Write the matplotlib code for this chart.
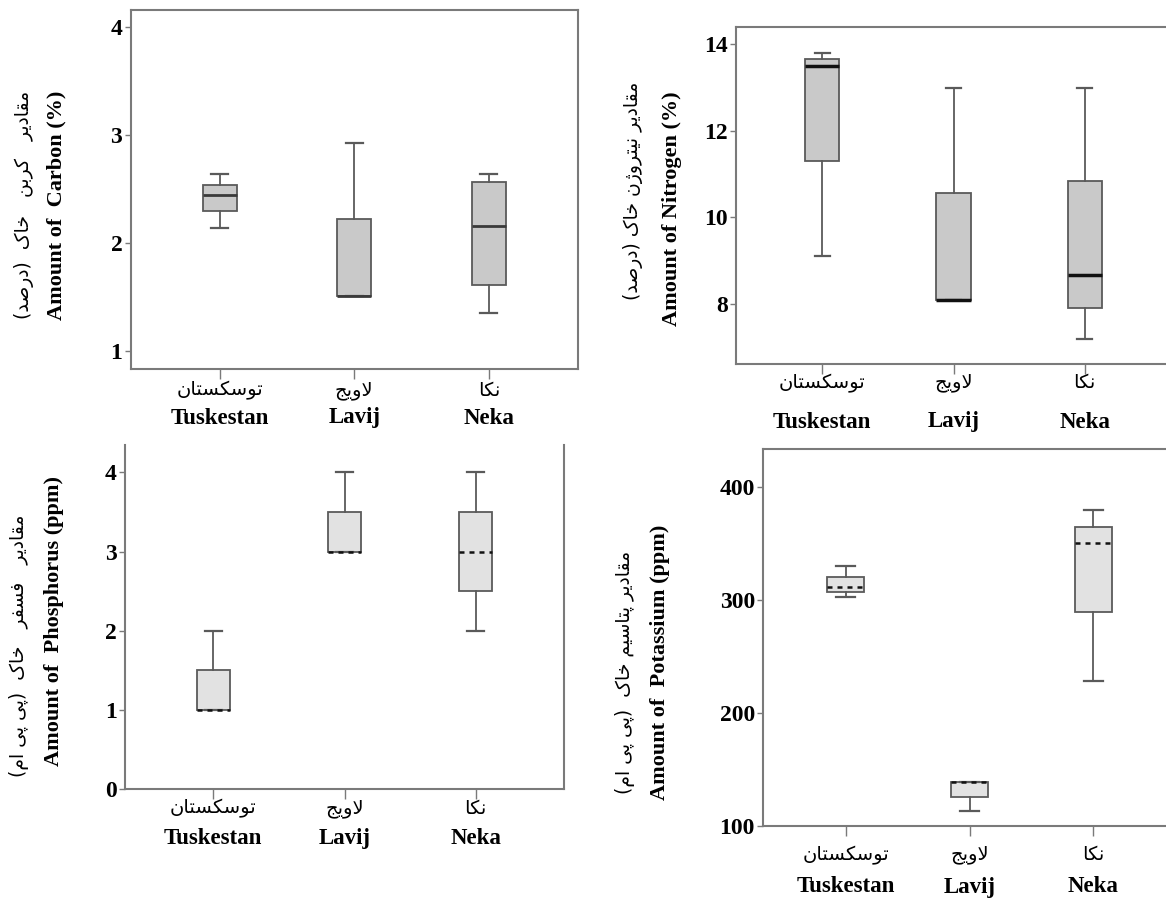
import matplotlib
matplotlib.use("Agg")
import matplotlib.pyplot as plt

# ---------------- data ----------------
sites_en = ["Tuskestan", "Lavij", "Neka"]
sites_fa = ["توسکستان", "لاویج", "نکا"]

# five-number summaries per site: whislo, q1, median, q3, whishi
carbon_whislo = [2.14, 1.51, 1.35]
carbon_q1 = [2.30, 1.51, 1.61]
carbon_med = [2.44, 1.51, 2.16]
carbon_q3 = [2.54, 2.22, 2.56]
carbon_whishi = [2.64, 2.93, 2.64]

nitrogen_whislo = [9.11, 8.10, 7.20]
nitrogen_q1 = [11.30, 8.10, 7.91]
nitrogen_med = [13.50, 8.10, 8.66]
nitrogen_q3 = [13.65, 10.56, 10.85]
nitrogen_whishi = [13.80, 13.00, 13.00]

phosphorus_whislo = [1.0, 3.0, 2.0]
phosphorus_q1 = [1.0, 3.0, 2.5]
phosphorus_med = [1.0, 3.0, 3.0]
phosphorus_q3 = [1.5, 3.5, 3.5]
phosphorus_whishi = [2.0, 4.0, 4.0]

potassium_whislo = [302, 113.5, 228]
potassium_q1 = [306.6, 125.9, 289]
potassium_med = [311.3, 139.2, 350]
potassium_q3 = [320.4, 139.2, 364]
potassium_whishi = [330, 139.2, 379]

ylabel_fa = ["مقادیر   کربن   خاک  (درصد)", "مقادیر نیتروژن خاک (درصد)",
             "مقادیر   فسفر   خاک  (پی پی ام)", "مقادیر پتاسیم خاک  (پی پی ام)"]
ylabel_en = ["Amount of  Carbon (%)", "Amount of Nitrogen (%)",
             "Amount of  Phosphorus (ppm)", "Amount of  Potassium (ppm)"]
carbon_ticks = [1, 2, 3, 4]
nitrogen_ticks = [8, 10, 12, 14]
phosphorus_ticks = [0, 1, 2, 3, 4]
potassium_ticks = [100, 200, 300, 400]

# ------------- simple Persian shaping (presentation forms) -------------
FORMS = {
    'ا': ('\uFE8D', '\uFE8E', None, None),
    'ب': ('\uFE8F', '\uFE90', '\uFE91', '\uFE92'),
    'پ': ('\uFB56', '\uFB57', '\uFB58', '\uFB59'),
    'ت': ('\uFE95', '\uFE96', '\uFE97', '\uFE98'),
    'ج': ('\uFE9D', '\uFE9E', '\uFE9F', '\uFEA0'),
    'خ': ('\uFEA5', '\uFEA6', '\uFEA7', '\uFEA8'),
    'د': ('\uFEA9', '\uFEAA', None, None),
    'ر': ('\uFEAD', '\uFEAE', None, None),
    'ژ': ('\uFB8A', '\uFB8B', None, None),
    'س': ('\uFEB1', '\uFEB2', '\uFEB3', '\uFEB4'),
    'ص': ('\uFEB9', '\uFEBA', '\uFEBB', '\uFEBC'),
    'ف': ('\uFED1', '\uFED2', '\uFED3', '\uFED4'),
    'ق': ('\uFED5', '\uFED6', '\uFED7', '\uFED8'),
    'ک': ('\uFB8E', '\uFB8F', '\uFB90', '\uFB91'),
    'ل': ('\uFEDD', '\uFEDE', '\uFEDF', '\uFEE0'),
    'م': ('\uFEE1', '\uFEE2', '\uFEE3', '\uFEE4'),
    'ن': ('\uFEE5', '\uFEE6', '\uFEE7', '\uFEE8'),
    'و': ('\uFEED', '\uFEEE', None, None),
    'ی': ('\uFBFC', '\uFBFD', '\uFBFE', '\uFBFF'),
}


def joins_left(c):
    return c in FORMS and FORMS[c][2] is not None


def fa(s):
    out = []
    n = len(s)
    i = 0
    while i < n:
        c = s[i]
        if c not in FORMS:
            out.append(c)
            i += 1
            continue
        prev_j = i > 0 and joins_left(s[i - 1])
        if c == 'ل' and i + 1 < n and s[i + 1] == 'ا':
            out.append('\uFEFC' if prev_j else '\uFEFB')
            i += 2
            continue
        next_j = joins_left(c) and i + 1 < n and s[i + 1] in FORMS
        iso, fin, ini, med = FORMS[c]
        if prev_j and next_j:
            g = med
        elif prev_j:
            g = fin
        elif next_j:
            g = ini
        else:
            g = iso
        out.append(g)
        i += 1
    vis = ''.join(out)[::-1]
    return vis.translate(str.maketrans('()', ')('))


# ---------------- figure ----------------
plt.rcParams['font.family'] = ['Liberation Serif']
plt.rcParams['font.weight'] = 'bold'
W, H = 1166, 899
fig = plt.figure(figsize=(W / 100, H / 100), dpi=100)
FA_FONT = dict(family=['DejaVu Sans'], weight='normal')
SPINE = '#7a7a7a'


def px_axes(left, top, right, bottom):
    return fig.add_axes([left / W, 1 - bottom / H, (right - left) / W, (bottom - top) / H])


panels = [
    dict(box=(130.6, 10, 578, 369), xlim=(0.338, 3.662), ylim=(0.833, 4.157),
         data=(carbon_whislo, carbon_q1, carbon_med, carbon_q3, carbon_whishi),
         ticks=carbon_ticks, face='#c9c9c9', med=dict(color='#3a3a3a', lw=2.0, ls='-'),
         width=0.25, cap=0.125, lab=(21, 49), ylab=(24, 56, 205, 205), top=True),
    dict(box=(736, 27.3, 1171, 364), xlim=(0.343, 3.657), ylim=(6.614, 14.393),
         data=(nitrogen_whislo, nitrogen_q1, nitrogen_med, nitrogen_q3, nitrogen_whishi),
         ticks=nitrogen_ticks, face='#c9c9c9', med=dict(color='#111111', lw=2.5, ls='-'),
         width=0.26, cap=0.115, lab=(19, 58), ylab=(633, 672, 191, 209), top=True),
    dict(box=(125, 445, 564, 789.3), xlim=(0.327, 3.673), ylim=(0, 4.344),
         data=(phosphorus_whislo, phosphorus_q1, phosphorus_med, phosphorus_q3, phosphorus_whishi),
         ticks=phosphorus_ticks, face='#e2e2e2', med=dict(color='#111111', lw=1.8, ls=(0, (2, 2))),
         width=0.25, cap=0.127, lab=(19, 49), ylab=(19, 54, 646, 621), top=False),
    dict(box=(763.3, 449.3, 1175.8, 826), xlim=(0.334, 3.666), ylim=(100, 433),
         data=(potassium_whislo, potassium_q1, potassium_med, potassium_q3, potassium_whishi),
         ticks=potassium_ticks, face='#e2e2e2', med=dict(color='#111111', lw=1.8, ls=(0, (2, 2))),
         width=0.30, cap=0.15, lab=(29, 61), ylab=(625, 660, 672, 662), top=True),
]

positions = [1, 2, 3]
for k, p in enumerate(panels):
    ax = px_axes(*p['box'])
    lo, q1, md, q3, hi = p['data']
    stats = [dict(whislo=lo[i], q1=q1[i], med=md[i], q3=q3[i], whishi=hi[i], fliers=[])
             for i in range(3)]
    ax.bxp(stats, positions=positions, widths=p['width'], capwidths=p['cap'],
           patch_artist=True, showfliers=False, manage_ticks=False,
           boxprops=dict(facecolor=p['face'], edgecolor='#5a5a5a', linewidth=1.3),
           whiskerprops=dict(color='#5a5a5a', linewidth=1.3),
           capprops=dict(color='#5a5a5a', linewidth=1.6),
           medianprops=dict(color=p['med']['color'], linewidth=p['med']['lw'],
                            linestyle=p['med']['ls']))
    ax.set_xlim(*p['xlim'])
    ax.set_ylim(*p['ylim'])
    ax.set_yticks(p['ticks'])
    ax.set_yticklabels([str(t) for t in p['ticks']])
    ax.set_xticks(positions)
    ax.set_xticklabels([])
    ax.tick_params(axis='y', direction='out', length=4, width=1, color=SPINE,
                   labelsize=17, pad=2)
    ax.tick_params(axis='x', direction='out', length=7, width=1, color=SPINE)
    for s in ax.spines.values():
        s.set_color(SPINE)
        s.set_linewidth(1.5)
    ax.spines['top'].set_visible(p['top'])
    for lab in ax.get_yticklabels():
        lab.set_fontweight('bold')
    for i, x in enumerate(positions):
        ax.annotate(fa(sites_fa[i]), xy=(x, 0), xycoords=('data', 'axes fraction'),
                    xytext=(0, -p['lab'][0] * 0.72), textcoords='offset points',
                    ha='center', va='center', fontsize=14, annotation_clip=False, **FA_FONT)
        ax.annotate(sites_en[i], xy=(x, 0), xycoords=('data', 'axes fraction'),
                    xytext=(0, -p['lab'][1] * 0.72), textcoords='offset points',
                    ha='center', va='center', fontsize=16.5, fontweight='bold',
                    annotation_clip=False)
    xf, xe, yf, ye = p['ylab']
    fig.text(xf / W, 1 - yf / H, fa(ylabel_fa[k]), rotation=90, ha='center', va='center',
             fontsize=13.5, **FA_FONT)
    fig.text(xe / W, 1 - ye / H, ylabel_en[k], rotation=90, ha='center', va='center',
             fontsize=16, fontweight='bold')

fig.savefig('out.png', dpi=100)
